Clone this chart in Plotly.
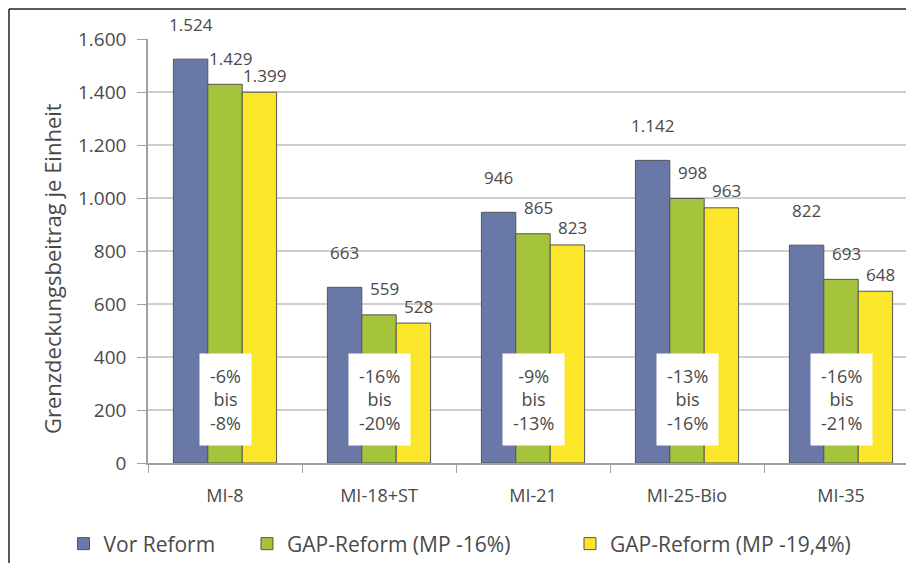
import plotly.graph_objects as go

categories = ['MI-8', 'MI-18+ST', 'MI-21', 'MI-25-Bio', 'MI-35']
vor_reform = [1524, 663, 946, 1142, 822]
gap_16 = [1429, 559, 865, 998, 693]
gap_194 = [1399, 528, 823, 963, 648]
change_text = ['-6%<br>bis<br>-8%', '-16%<br>bis<br>-20%', '-9%<br>bis<br>-13%',
               '-13%<br>bis<br>-16%', '-16%<br>bis<br>-21%']
y_ticks = [0, 200, 400, 600, 800, 1000, 1200, 1400, 1600]
y_ticklabels = ['0', '200', '400', '600', '800', '1.000', '1.200', '1.400', '1.600']

FONT = 'Open Sans'
GREY = '#4a4a4a'


def fmt(v):
    return f'{v:,}'.replace(',', '.')


fig = go.Figure()

series = [
    ('Vor Reform', vor_reform, '#6a78a8', 'legend', -0.1092),
    ('GAP-Reform (MP -16%)', gap_16, '#a5c43c', 'legend2', 0.1279),
    ('GAP-Reform (MP -19,4%)', gap_194, '#fbe62a', 'legend3', 0.5452),
]

bar_w = 34.4
label_lift = [35, 26, 17]
label_nudge = [0, 5, 5]

for i, (name, vals, col, leg, _) in enumerate(series):
    fig.add_trace(go.Bar(
        x=categories,
        y=vals,
        name=name,
        legend=leg,
        marker=dict(color=col, line=dict(color='#555555', width=1)),
    ))
    for cat, v in zip(categories, vals):
        fig.add_annotation(
            x=cat, y=v, text=fmt(v), showarrow=False,
            xshift=(i - 1) * bar_w + label_nudge[i], yshift=label_lift[i],
            yanchor='middle',
            font=dict(family=FONT, size=17, color=GREY),
        )

for cat, txt in zip(categories, change_text):
    fig.add_annotation(
        x=cat, y=238, text=txt, showarrow=False,
        font=dict(family=FONT, size=18, color=GREY),
        bgcolor='white', borderpad=10,
    )

# y-axis title
fig.add_annotation(
    xref='paper', yref='paper', x=-0.124, y=0.4575, textangle=-90,
    xanchor='center', yanchor='middle',
    text='Grenzdeckungsbeitrag je Einheit', showarrow=False,
    font=dict(family=FONT, size=22, color=GREY),
)

# frame around the picture (cropped on the right and bottom)
fig.add_shape(type='line', xref='paper', yref='paper',
              x0=-0.1796, x1=1.0, y0=1.071, y1=1.071,
              line=dict(color='#222222', width=1.5))
fig.add_shape(type='line', xref='paper', yref='paper',
              x0=-0.1796, x1=-0.1796, y0=-0.26, y1=1.071,
              line=dict(color='#222222', width=1.5))

legend_style = dict(orientation='h', y=-0.191, xanchor='left', yanchor='middle',
                    font=dict(family=FONT, size=21, color=GREY),
                    itemwidth=30, bgcolor='rgba(0,0,0,0)')

fig.update_layout(
    width=914, height=563,
    margin=dict(l=140, r=0, t=31, b=108, autoexpand=False),
    barmode='group', bargap=0.33, bargroupgap=0,
    plot_bgcolor='white', paper_bgcolor='white',
    font=dict(family=FONT, size=17, color=GREY),
    showlegend=True,
    legend=dict(x=series[0][4], **legend_style),
    legend2=dict(x=series[1][4], **legend_style),
    legend3=dict(x=series[2][4], **legend_style),
    xaxis=dict(range=[-0.5, 4.526], showgrid=False, automargin=False,
               showline=True, linecolor='#a0a0a0', linewidth=1.5,
               ticks='outside', ticklen=8, tickcolor='#a0a0a0',
               tickson='boundaries', ticklabelstandoff=16,
               tickfont=dict(family=FONT, size=18, color=GREY)),
    yaxis=dict(range=[0, 1600], tickvals=y_ticks, ticktext=y_ticklabels,
               automargin=False,
               showgrid=True, gridcolor='#cfcfcf', gridwidth=1.5,
               showline=True, linecolor='#a0a0a0', linewidth=1.5,
               ticks='outside', ticklen=9, tickcolor='#a0a0a0',
               zeroline=False, ticklabelstandoff=7,
               tickfont=dict(family=FONT, size=19, color=GREY)),
)

fig.write_html('out.html')
